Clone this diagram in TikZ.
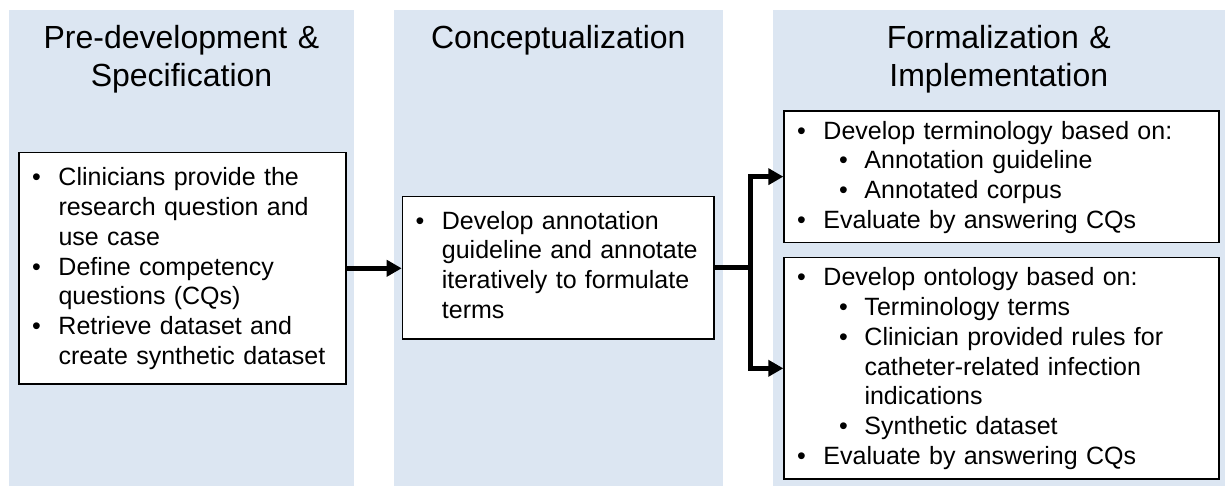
\documentclass[tikz,border=0pt]{standalone}
\usepackage{fontspec}
\setmainfont{Liberation Sans}
\usetikzlibrary{arrows.meta}
\definecolor{bgblue}{HTML}{DCE6F2}
\newcommand\bA{\makebox[40pt][l]{\hspace*{13.6pt}\textbullet}}
\newcommand\iA{\hspace*{40pt}}
\newcommand\bB{\makebox[81pt][l]{\hspace*{55.6pt}\textbullet}}
\newcommand\iB{\hspace*{81pt}}
\newcommand\fst{\rule{0pt}{20pt}}
\newcommand\tst{\rule{0pt}{25pt}}
\begin{document}
\begin{tikzpicture}[x=1pt,y=-1pt,
  col/.style={fill=bgblue, draw=none, inner sep=0pt, anchor=north west},
  stepbox/.style={draw=black, line width=1.6pt, fill=white, inner sep=0pt, anchor=north west},
  body/.style={inner sep=0pt, anchor=north west, text width=420pt, align=left, font=\fontsize{25}{29.7}\selectfont},
  title/.style={inner sep=0pt, anchor=north, text width=420pt, align=center, font=\fontsize{32}{37.7}\selectfont},
  conn/.style={line width=5pt, -{Triangle[length=15pt,width=16pt]}},
  link/.style={line width=5pt}
]
\useasboundingbox (0,0) rectangle (1225,485);
% columns
\node[col, minimum width=345pt, minimum height=476pt] (c1) at (9,9.5) {};
\node[col, minimum width=328.7pt, minimum height=476pt] (c2) at (394,9.5) {};
\node[col, minimum width=452.3pt, minimum height=476pt] (c3) at (772.7,9.5) {};
% titles
\node[title] (tt1) at (181.5,23.3) {\tst Pre-development \&\\Specification};
\node[title] (tt2) at (558.3,23.3) {\tst Conceptualization};
\node[title] (tt3) at (998.8,23.3) {\tst Formalization \&\\Implementation};
% boxes
\node[stepbox, minimum width=326.7pt, minimum height=231.6pt] (b1) at (18.3,151.7) {};
\node[stepbox, minimum width=311.6pt, minimum height=142.6pt] (b2) at (401.7,195.7) {};
\node[stepbox, minimum width=435pt, minimum height=131.7pt] (b3) at (783.3,110) {};
\node[stepbox, minimum width=435pt, minimum height=221.6pt] (b4) at (783.3,256.7) {};
% texts
\node[body] (t1) at (18.3,165.7) {\fst\bA Clinicians provide the\\
\iA research question and\\
\iA use case\\
\bA Define competency\\
\iA questions (CQs)\\
\bA Retrieve dataset and\\
\iA create synthetic dataset};
\node[body] (t2) at (401.7,209) {\fst\bA Develop annotation\\
\iA guideline and annotate\\
\iA iteratively to formulate\\
\iA terms};
\node[body] (t3) at (783.3,119) {\fst\bA Develop terminology based on:\\
\bB Annotation guideline\\
\bB Annotated corpus\\
\bA Evaluate by answering CQs};
\node[body] (t4) at (783.3,265.7) {\fst\bA Develop ontology based on:\\
\bB Terminology terms\\
\bB Clinician provided rules for\\
\iB catheter-related infection\\
\iB indications\\
\bB Synthetic dataset\\
\bA Evaluate by answering CQs};
% connectors
\draw[conn] (b1.east) -- (b1.east -| b2.west);
\coordinate (br) at (750.5,267);
\draw[link] (b2.east) -- (b2.east -| br);
\draw[conn] (br) |- (b3.west);
\draw[conn] (br) |- (b4.west);
\end{tikzpicture}
\end{document}
